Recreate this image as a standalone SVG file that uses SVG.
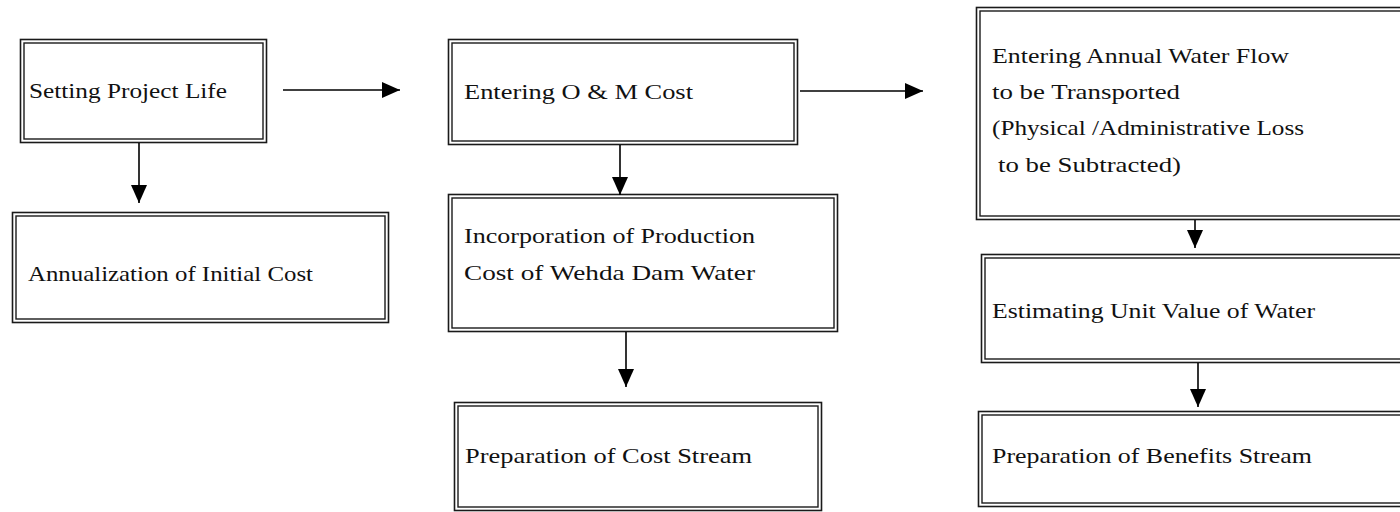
<svg xmlns="http://www.w3.org/2000/svg" width="1400" height="512" viewBox="0 0 1400 512">
<defs>
<style>
.o{fill:#fff;stroke:#1a1a1a;stroke-width:1.6}
.i{fill:none;stroke:#1a1a1a;stroke-width:1.4}
.t{font-family:"Liberation Serif","Times New Roman",serif;font-size:22px;fill:#111}
.c{stroke:#000;stroke-width:1.6;fill:none;marker-end:url(#ah)}
</style>
<marker id="ah" markerUnits="userSpaceOnUse" markerWidth="20" markerHeight="18" refX="18" refY="8" orient="auto">
<path d="M0,0 L18,8 L0,16 z" fill="#000"/>
</marker>
</defs>
<rect width="1400" height="512" fill="#fff"/>
<g id="n1">
<rect class="o" x="20.5" y="39.5" width="246" height="103"/>
<rect class="i" x="24" y="43" width="239" height="96"/>
<text class="t" x="29" y="98" textLength="198" lengthAdjust="spacingAndGlyphs">Setting Project Life</text>
</g>
<g id="n2">
<rect class="o" x="12.5" y="212.5" width="376" height="110"/>
<rect class="i" x="16" y="216" width="369" height="103"/>
<text class="t" x="28" y="281" textLength="285" lengthAdjust="spacingAndGlyphs">Annualization of Initial Cost</text>
</g>
<g id="n3">
<rect class="o" x="448.5" y="39.5" width="349" height="105"/>
<rect class="i" x="452" y="43" width="342" height="98"/>
<text class="t" x="464" y="99" textLength="229" lengthAdjust="spacingAndGlyphs">Entering O &amp; M Cost</text>
</g>
<g id="n4">
<rect class="o" x="448.5" y="194.5" width="389" height="137"/>
<rect class="i" x="452" y="198" width="382" height="130"/>
<text class="t" x="464" y="243" textLength="291" lengthAdjust="spacingAndGlyphs">Incorporation of Production</text>
<text class="t" x="464" y="280" textLength="291" lengthAdjust="spacingAndGlyphs">Cost of Wehda Dam Water</text>
</g>
<g id="n5">
<rect class="o" x="454.5" y="402.5" width="367" height="108"/>
<rect class="i" x="458" y="406" width="360" height="101"/>
<text class="t" x="465" y="463" textLength="287" lengthAdjust="spacingAndGlyphs">Preparation of Cost Stream</text>
</g>
<g id="n6">
<rect class="o" x="976.5" y="7.5" width="434" height="212"/>
<rect class="i" x="980" y="11" width="427" height="205"/>
<text class="t" x="992" y="63" textLength="297" lengthAdjust="spacingAndGlyphs">Entering Annual Water Flow</text>
<text class="t" x="992" y="99" textLength="188" lengthAdjust="spacingAndGlyphs">to be Transported</text>
<text class="t" x="992" y="135" textLength="312" lengthAdjust="spacingAndGlyphs">(Physical /Administrative Loss</text>
<text class="t" x="998" y="172" textLength="183" lengthAdjust="spacingAndGlyphs">to be Subtracted)</text>
</g>
<g id="n7">
<rect class="o" x="981.5" y="254.5" width="429" height="108"/>
<rect class="i" x="985" y="258" width="422" height="101"/>
<text class="t" x="992" y="318" textLength="323" lengthAdjust="spacingAndGlyphs">Estimating Unit Value of Water</text>
</g>
<g id="n8">
<rect class="o" x="978.5" y="411.5" width="432" height="95"/>
<rect class="i" x="982" y="415" width="425" height="88"/>
<text class="t" x="992" y="463" textLength="320" lengthAdjust="spacingAndGlyphs">Preparation of Benefits Stream</text>
</g>
<g id="connectors">
<line class="c" x1="283" y1="90" x2="400" y2="90"/>
<line class="c" x1="800" y1="91" x2="923" y2="91"/>
<line class="c" x1="139" y1="143" x2="139" y2="203"/>
<line class="c" x1="620" y1="145" x2="620" y2="195"/>
<line class="c" x1="626" y1="332" x2="626" y2="387"/>
<line class="c" x1="1195" y1="220" x2="1195" y2="248"/>
<line class="c" x1="1198" y1="363" x2="1198" y2="407"/>
</g>
</svg>
